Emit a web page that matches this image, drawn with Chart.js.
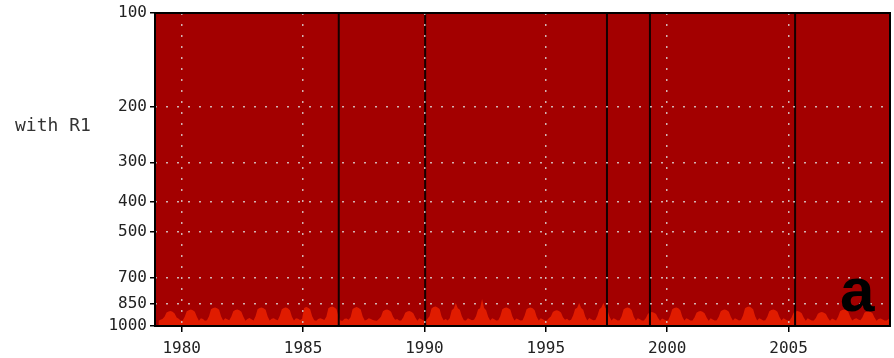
<!DOCTYPE html>
<html>
<head>
<meta charset="utf-8">
<script src="https://cdn.jsdelivr.net/npm/chart.js@4/dist/chart.umd.min.js"></script>
<style>
  html, body { margin: 0; padding: 0; background: #ffffff; }
  #wrap { position: relative; width: 894px; height: 358px; }
</style>
</head>
<body>
<div id="wrap"><canvas id="c" width="894" height="358"></canvas></div>
<script>
// Pressure levels (hPa) used for the vertical axis ticks and grid
const pressureTicks = [100, 200, 300, 400, 500, 700, 850, 1000];
// Year ticks along the time axis
const yearTicks = [1980, 1985, 1990, 1995, 2000, 2005];
// Years at which the observing system changes (vertical black lines)
const transitionYears = [1986.47, 1990.03, 1997.52, 1999.29, 2005.27];

// Monthly top level (hPa) of the near-surface layer, January 1979 onwards
const firstYear = 1979;
const layerTop = [
  // 1979
  962, 955, 950, 935, 905, 898, 895, 900, 912, 940, 948, 960,
  // 1980
  960, 935, 897, 890, 885, 890, 900, 935, 962, 945, 950, 962,
  // 1981
  958, 930, 884, 876, 872, 878, 888, 932, 960, 944, 952, 958,
  // 1982
  935, 897, 889, 885, 891, 900, 935, 962, 950, 942, 952, 960,
  // 1983
  930, 884, 876, 872, 878, 888, 932, 960, 948, 944, 954, 958,
  // 1984
  928, 884, 876, 872, 878, 890, 935, 960, 944, 948, 956, 950,
  // 1985
  876, 870, 874, 884, 930, 958, 962, 950, 944, 950, 956, 935,
  // 1986
  878, 870, 866, 872, 882, 930, 960, 962, 948, 946, 955, 938,
  // 1987
  882, 874, 870, 876, 886, 932, 960, 955, 945, 950, 956, 960,
  // 1988
  962, 950, 935, 897, 889, 885, 891, 900, 935, 955, 950, 960,
  // 1989
  960, 940, 907, 899, 895, 900, 910, 940, 962, 944, 952, 960,
  // 1990
  962, 948, 930, 880, 870, 866, 872, 882, 932, 958, 950, 960,
  // 1991
  945, 890, 880, 844, 878, 888, 930, 958, 960, 944, 952, 958,
  // 1992
  955, 930, 885, 878, 820, 876, 890, 935, 960, 944, 952, 960,
  // 1993
  958, 930, 884, 876, 872, 878, 888, 932, 960, 946, 954, 960,
  // 1994
  958, 928, 884, 876, 872, 878, 890, 934, 960, 944, 952, 960,
  // 1995
  960, 945, 932, 902, 894, 890, 896, 905, 938, 955, 948, 960,
  // 1996
  955, 925, 882, 874, 844, 876, 888, 932, 960, 942, 952, 958,
  // 1997
  957, 928, 884, 872, 844, 876, 890, 934, 960, 944, 952, 960,
  // 1998
  958, 930, 884, 876, 872, 878, 890, 935, 960, 944, 952, 960,
  // 1999
  960, 942, 914, 906, 902, 907, 915, 942, 962, 946, 954, 960,
  // 2000
  958, 928, 884, 876, 872, 878, 890, 934, 960, 944, 952, 960,
  // 2001
  960, 940, 907, 899, 895, 900, 910, 940, 962, 944, 954, 960,
  // 2002
  958, 935, 897, 889, 885, 890, 900, 936, 960, 944, 952, 960,
  // 2003
  956, 925, 878, 870, 866, 872, 884, 930, 960, 944, 952, 960,
  // 2004
  958, 935, 897, 889, 885, 890, 900, 936, 960, 944, 953, 960,
  // 2005
  960, 940, 907, 899, 895, 900, 910, 940, 962, 945, 954, 960,
  // 2006
  960, 942, 914, 906, 902, 907, 915, 942, 962, 946, 954, 960,
  // 2007
  935, 897, 889, 885, 891, 900, 935, 960, 950, 944, 954, 958,
  // 2008
  940, 907, 899, 895, 900, 910, 940, 962, 950, 946, 954, 960,
  // 2009
  960, 950, 935
];

const tickFont = { family: "'DejaVu Sans Mono', monospace", size: 16 };
const gridColor = 'rgba(215, 200, 200, 0.9)';
const gridDash = [2, 9];

const layerPoints = layerTop.map((p, i) => ({ x: firstYear + (i + 0.5) / 12, y: p }));

const transitionSets = transitionYears.map(yr => ({
  type: 'line',
  data: [{ x: yr, y: pressureTicks[0] }, { x: yr, y: pressureTicks[pressureTicks.length - 1] }],
  borderColor: '#140000',
  borderWidth: 2,
  pointRadius: 0,
  fill: false,
  order: 0
}));

const panelDecor = {
  id: 'panelDecor',
  beforeDraw(chart) {
    const { ctx, chartArea: a } = chart;
    ctx.save();
    ctx.fillStyle = '#a30000';
    ctx.fillRect(a.left, a.top, a.right - a.left, a.bottom - a.top);
    ctx.restore();
  },
  afterDraw(chart) {
    const { ctx, chartArea: a } = chart;
    ctx.save();
    ctx.strokeStyle = '#000000';
    ctx.lineWidth = 2;
    ctx.strokeRect(a.left, a.top, a.right - a.left, a.bottom - a.top);

    ctx.fillStyle = '#333333';
    ctx.font = "18px 'DejaVu Sans Mono', monospace";
    ctx.textBaseline = 'middle';
    ctx.textAlign = 'left';
    ctx.fillText('with R1', 15, 126);

    ctx.fillStyle = '#000000';
    ctx.font = "bold 62px 'Liberation Sans', Arial, sans-serif";
    ctx.textBaseline = 'alphabetic';
    ctx.fillText('a', 840, 311);
    ctx.restore();
  }
};

new Chart(document.getElementById('c'), {
  type: 'line',
  data: {
    datasets: [
      ...transitionSets,
      {
        data: layerPoints,
        borderWidth: 0,
        borderColor: 'rgba(0,0,0,0)',
        backgroundColor: '#e01c00',
        fill: { value: 1000 },
        pointRadius: 0,
        tension: 0,
        order: 1
      }
    ]
  },
  options: {
    responsive: false,
    animation: false,
    events: [],
    layout: { padding: { left: 0, right: 4, top: 13, bottom: 0 } },
    plugins: { legend: { display: false }, tooltip: { enabled: false } },
    scales: {
      x: {
        type: 'linear',
        position: 'bottom',
        min: 1978.9,
        max: 2009.18,
        afterBuildTicks: s => { s.ticks = yearTicks.map(v => ({ value: v })); },
        afterFit: s => { s.height = 32; },
        border: { display: false, dash: gridDash },
        grid: {
          color: gridColor,
          lineWidth: 1.5,
          z: 1,
          drawTicks: true,
          tickLength: 6,
          tickColor: '#000000',
          tickWidth: 1.5,
          tickBorderDash: []
        },
        ticks: {
          font: tickFont,
          color: '#222222',
          padding: 7,
          maxRotation: 0,
          autoSkip: false,
          callback: v => String(v)
        }
      },
      y: {
        type: 'logarithmic',
        min: 100,
        max: 1000,
        reverse: true,
        afterBuildTicks: s => { s.ticks = pressureTicks.map(v => ({ value: v })); },
        afterFit: s => { s.width = 155; },
        border: { display: false, dash: gridDash },
        grid: {
          color: ctx => (ctx.tick && (ctx.tick.value === 100 || ctx.tick.value === 1000)) ? 'rgba(0,0,0,0)' : gridColor,
          lineWidth: 1.5,
          z: 1,
          drawTicks: true,
          tickLength: 5,
          tickColor: '#000000',
          tickWidth: 1.5,
          tickBorderDash: []
        },
        ticks: {
          font: tickFont,
          color: '#222222',
          padding: 3,
          autoSkip: false,
          callback: v => String(v)
        }
      }
    }
  },
  plugins: [panelDecor]
});
</script>
</body>
</html>
